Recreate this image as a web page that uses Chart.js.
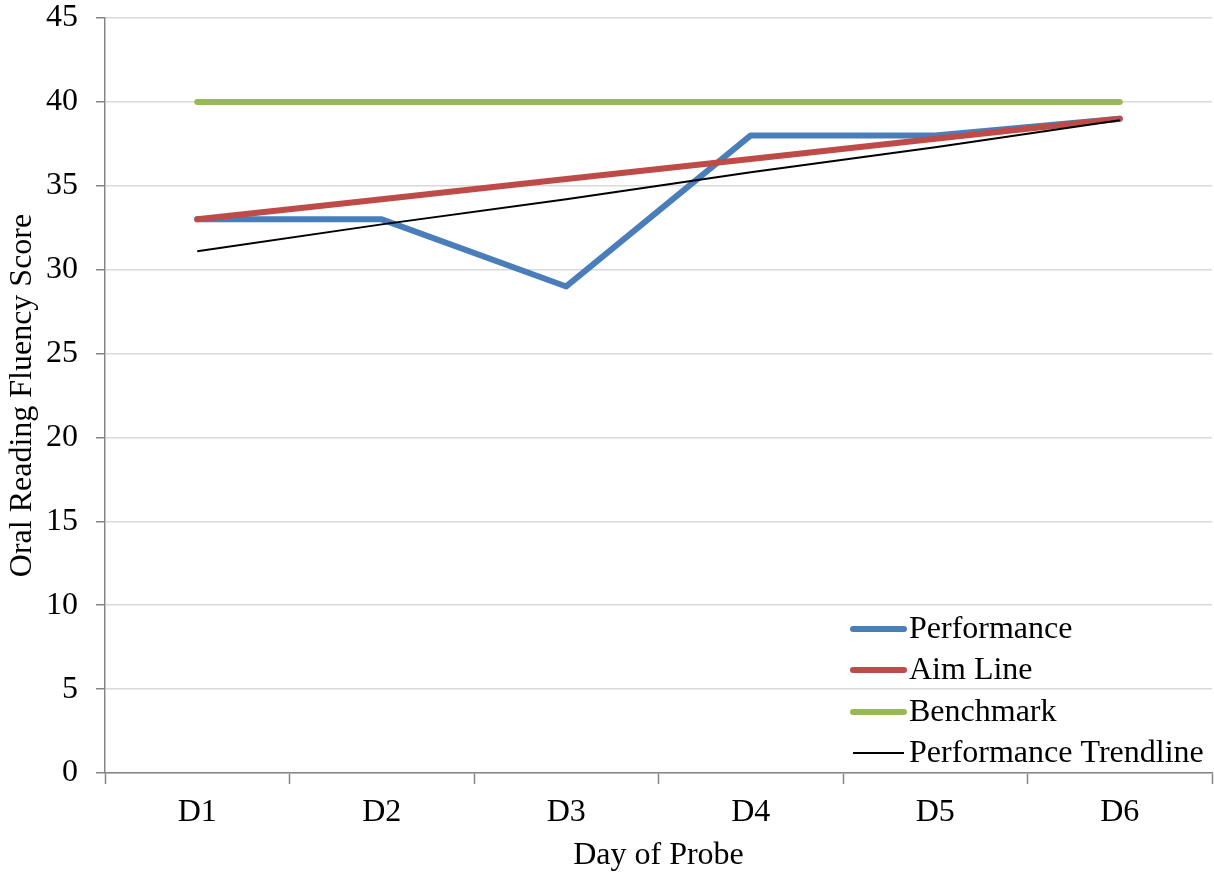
<!DOCTYPE html>
<html>
<head>
<meta charset="utf-8">
<script src="https://cdn.jsdelivr.net/npm/chart.js@4"></script>
<style>
  html, body { margin: 0; padding: 0; background: #fff; }
  #wrap { width: 1214px; height: 877px; }
</style>
</head>
<body>
<div id="wrap"><canvas id="chart-canvas"></canvas></div>
<script>
const days = ["D1", "D2", "D3", "D4", "D5", "D6"];
const performance = [33, 33, 29, 38, 38, 39];
const aimLine = [33, 34.2, 35.4, 36.6, 37.8, 39];
const benchmark = [40, 40, 40, 40, 40, 40];
const trendline = [31.1, 32.7, 34.2, 35.8, 37.3, 38.9];

const blue = "#4a7ebb";
const red = "#be4b48";
const green = "#98b954";
const axisGrey = "#868686";
const gridGrey = "#d9d9d9";
const serif = "'Liberation Serif', 'Times New Roman', serif";
const fontSize = 32;

Chart.defaults.font.family = serif;
Chart.defaults.color = "#000";

// legend drawn inside the plot, bottom right
const insideLegend = {
  id: "insideLegend",
  afterDraw(chart) {
    const ctx = chart.ctx;
    const rows = [0, 1, 2, 3].map((i) => chart.data.datasets.find((d) => d.order === 3 - i));
    const rowY = [629, 670, 712, 753];
    ctx.save();
    ctx.font = fontSize + "px " + serif;
    ctx.textBaseline = "middle";
    ctx.fillStyle = "#000";
    rows.forEach((ds, i) => {
      ctx.beginPath();
      ctx.strokeStyle = ds.borderColor;
      ctx.lineWidth = ds.borderWidth;
      ctx.lineCap = ds.borderWidth > 2 ? "round" : "butt";
      ctx.moveTo(853, rowY[i]);
      ctx.lineTo(904, rowY[i]);
      ctx.stroke();
      ctx.fillText(ds.label, 909, rowY[i] + 1);
    });
    ctx.restore();
  },
};

const lineStyle = (color, width) => ({
  borderColor: color,
  backgroundColor: color,
  borderWidth: width,
  pointRadius: 0,
  pointHoverRadius: 0,
  tension: 0,
  fill: false,
  borderCapStyle: "round",
  borderJoinStyle: "round",
});

new Chart(document.getElementById("chart-canvas"), {
  type: "line",
  data: {
    labels: days,
    datasets: [
      { label: "Performance Trendline", data: trendline, order: 0, ...lineStyle("#000", 2), borderCapStyle: "butt" },
      { label: "Performance", data: performance, order: 3, ...lineStyle(blue, 6) },
      { label: "Aim Line", data: aimLine, order: 2, ...lineStyle(red, 6) },
      { label: "Benchmark", data: benchmark, order: 1, ...lineStyle(green, 6) },
    ],
  },
  options: {
    responsive: true,
    maintainAspectRatio: false,
    animation: false,
    layout: { padding: { top: 18, right: 2, left: 0, bottom: 0 } },
    scales: {
      x: {
        offset: true,
        grid: {
          display: true,
          offset: true,
          drawOnChartArea: false,
          tickLength: 11,
          tickColor: axisGrey,
          tickWidth: 1.5,
        },
        border: { display: true, color: axisGrey, width: 1.5 },
        ticks: { font: { size: fontSize }, padding: 9, maxRotation: 0 },
        title: {
          display: true,
          text: "Day of Probe",
          font: { size: fontSize },
          padding: { top: 0, bottom: 2 },
        },
        afterFit: (scale) => {
          scale.height = 104;
          scale.paddingLeft = 0;
          scale.paddingRight = 0;
        },
      },
      y: {
        min: 0,
        max: 45,
        ticks: { stepSize: 5, font: { size: fontSize }, padding: 18 },
        grid: {
          color: gridGrey,
          lineWidth: 1.5,
          tickLength: 9,
          tickColor: axisGrey,
        },
        border: { display: true, color: axisGrey, width: 1.5 },
        title: {
          display: true,
          text: "Oral Reading Fluency Score",
          font: { size: fontSize },
          padding: { top: 3, bottom: 0 },
        },
        afterFit: (scale) => {
          scale.width = 105;
          scale.paddingTop = 0;
          scale.paddingBottom = 0;
        },
      },
    },
    plugins: {
      legend: { display: false },
      tooltip: { enabled: false },
    },
  },
  plugins: [insideLegend],
});
</script>
</body>
</html>
